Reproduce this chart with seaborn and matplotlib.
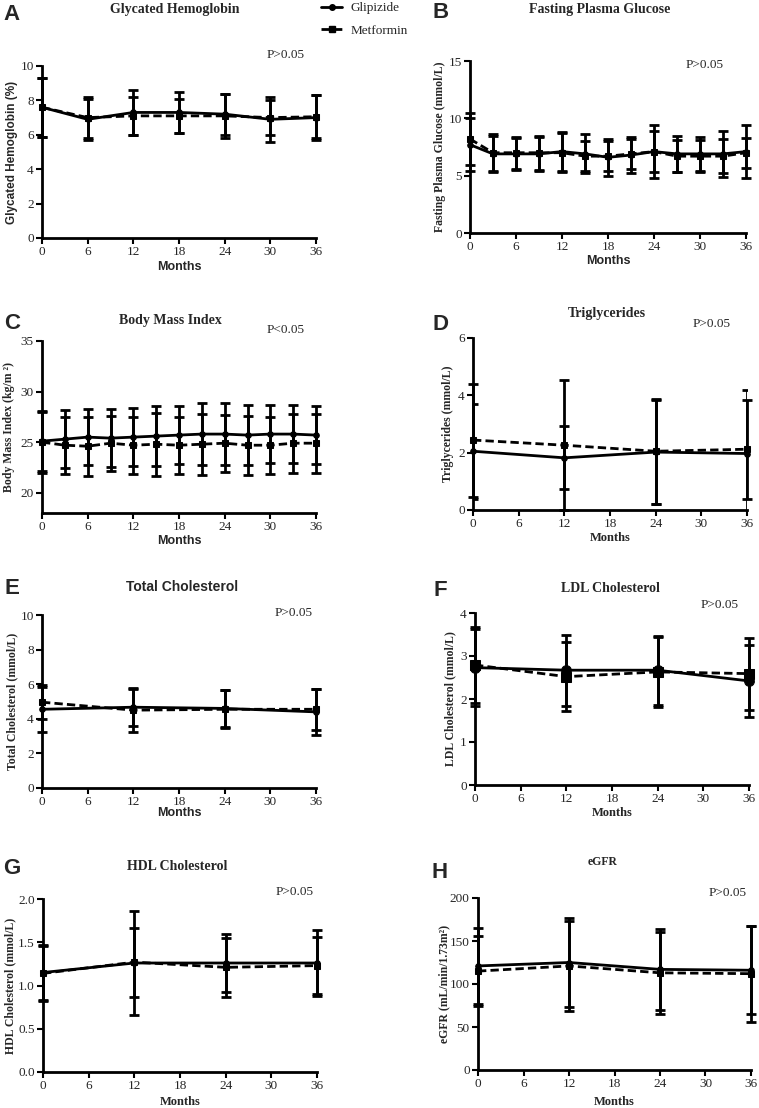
import numpy as np
import pandas as pd
import matplotlib
matplotlib.use("Agg")
import matplotlib.pyplot as plt
from matplotlib.lines import Line2D
import seaborn as sns

# ---------------- data ----------------
months_a = [0, 6, 12, 18, 24, 30, 36]
months_3 = [0, 3, 6, 9, 12, 15, 18, 21, 24, 27, 30, 33, 36]
months_y = [0, 12, 24, 36]

hba1c_glip = [7.6, 6.9, 7.3, 7.3, 7.2, 6.9, 7.0]
hba1c_glip_sd = [1.7, 1.2, 1.3, 1.2, 1.2, 1.3, 1.3]
hba1c_metf = [7.6, 7.0, 7.1, 7.1, 7.1, 7.0, 7.05]
hba1c_metf_sd = [1.7, 1.2, 1.1, 1.0, 1.3, 1.0, 1.25]

fpg_glip = [7.7, 6.9, 6.9, 6.9, 7.1, 6.9, 6.6, 6.8, 7.1, 6.9, 6.9, 6.9, 7.1]
fpg_glip_sd = [2.3, 1.6, 1.4, 1.5, 1.7, 1.7, 1.6, 1.6, 2.3, 1.6, 1.5, 2.0, 2.3]
fpg_metf = [8.2, 7.0, 7.0, 7.0, 7.0, 6.7, 6.7, 6.9, 7.1, 6.7, 6.7, 6.7, 7.0]
fpg_metf_sd = [2.3, 1.6, 1.4, 1.5, 1.7, 1.3, 1.3, 1.3, 1.8, 1.4, 1.4, 1.5, 1.3]

bmi_glip = [25.1, 25.3, 25.5, 25.4, 25.5, 25.6, 25.7, 25.8, 25.8, 25.7, 25.8, 25.8, 25.7]
bmi_glip_sd = [2.95, 2.9, 2.8, 2.9, 2.9, 3.0, 2.9, 3.1, 3.1, 3.0, 2.9, 2.9, 2.9]
bmi_metf = [25.0, 24.7, 24.6, 24.9, 24.7, 24.8, 24.7, 24.8, 24.9, 24.7, 24.7, 24.9, 24.9]
bmi_metf_sd = [3.0, 2.8, 2.9, 2.7, 2.8, 3.1, 2.8, 3.0, 2.8, 2.9, 2.8, 2.9, 2.9]

tg_glip = [2.05, 1.82, 2.02, 1.97]
tg_glip_sd = [1.65, 1.1, 1.8, 2.2]
tg_metf = [2.44, 2.26, 2.05, 2.12]
tg_metf_sd = [1.97, 2.26, 1.83, 1.72]

tc_glip = [4.55, 4.67, 4.6, 4.4]
tc_glip_sd = [1.3, 1.1, 1.05, 1.35]
tc_metf = [4.96, 4.5, 4.55, 4.55]
tc_metf_sd = [1.0, 1.25, 1.1, 1.2]

ldl_glip = [2.73, 2.67, 2.67, 2.42]
ldl_glip_sd = [0.9, 0.83, 0.8, 0.84]
ldl_metf = [2.79, 2.52, 2.63, 2.59]
ldl_metf_sd = [0.88, 0.8, 0.82, 0.84]

hdl_glip = [1.15, 1.26, 1.26, 1.26]
hdl_glip_sd = [0.32, 0.6, 0.33, 0.38]
hdl_metf = [1.14, 1.27, 1.21, 1.23]
hdl_metf_sd = [0.32, 0.4, 0.34, 0.33]

egfr_glip = [121, 125, 117, 116]
egfr_glip_sd = [44, 52, 47, 51]
egfr_metf = [115, 121, 113, 112]
egfr_metf_sd = [41, 52, 48, 56]

groups = ["Glipizide", "Metformin"]
month_ticks = [0, 6, 12, 18, 24, 30, 36]

# ---------------- style ----------------
sns.set_style("ticks")
SERIF = "Liberation Serif"
SANS = "Liberation Sans"
plt.rcParams["font.family"] = [SERIF, "DejaVu Serif"]

W, H = 759, 1108
fig = plt.figure(figsize=(W / 100, H / 100), dpi=100)


def rect(l, r, t, b):
    return [l / W, 1 - b / H, (r - l) / W, (b - t) / H]


panels = [
    dict(letter="A", pos=rect(42, 316, 66, 238), x=months_a,
         g=hba1c_glip, gs=hba1c_glip_sd, m=hba1c_metf, ms=hba1c_metf_sd,
         ylim=(0, 10), yticks=[0, 2, 4, 6, 8, 10], yfmt="{:g}",
         title="Glycated Hemoglobin", tfont=SERIF, tx=0.485, ty=1.33, tsize=10,
         ylabel="Glycated Hemoglobin (%)", yfont=SANS, ylx=-0.088,
         xfont=SANS, xly=-0.135, ptext="P>0.05", px=0.89, py=1.064,
         lx=12, ly=15, msz=4),
    dict(letter="B", pos=rect(470, 746, 61, 233), x=months_3,
         g=fpg_glip, gs=fpg_glip_sd, m=fpg_metf, ms=fpg_metf_sd,
         ylim=(0, 15), yticks=[0, 5, 10, 15], yfmt="{:g}",
         title="Fasting Plasma Glucose", tfont=SERIF, tx=0.471, ty=1.30, tsize=10,
         ylabel="Fasting Plasma Glucose (mmol/L)", yfont=SERIF, ylx=-0.087,
         xfont=SANS, xly=-0.13, ptext="P>0.05", px=0.851, py=0.977,
         lx=441, ly=13, msz=4),
    dict(letter="C", pos=rect(42, 316, 341, 513), x=months_3,
         g=bmi_glip, gs=bmi_glip_sd, m=bmi_metf, ms=bmi_metf_sd,
         ylim=(18, 35), yticks=[20, 25, 30, 35], yfmt="{:g}",
         title="Body Mass Index", tfont=SERIF, tx=0.47, ty=1.12, tsize=10,
         ylabel="Body Mass Index (kg/m ²)", yfont=SERIF, ylx=-0.097,
         xfont=SANS, xly=-0.13, ptext="P<0.05", px=0.89, py=1.064,
         lx=12, ly=324, msz=4),
    dict(letter="D", pos=rect(473, 747, 338, 510), x=months_y,
         g=tg_glip, gs=tg_glip_sd, m=tg_metf, ms=tg_metf_sd,
         ylim=(0, 6), yticks=[0, 2, 4, 6], yfmt="{:g}",
         title="Triglycerides", tfont=SERIF, tx=0.489, ty=1.145, tsize=10,
         ylabel="Triglycerides (mmol/L)", yfont=SERIF, ylx=-0.069,
         xfont=SERIF, xly=-0.13, ptext="P>0.05", px=0.872, py=1.081,
         lx=441, ly=325, msz=4),
    dict(letter="E", pos=rect(42, 316, 615, 788), x=months_y,
         g=tc_glip, gs=tc_glip_sd, m=tc_metf, ms=tc_metf_sd,
         ylim=(0, 10), yticks=[0, 2, 4, 6, 8, 10], yfmt="{:g}",
         title="Total Cholesterol", tfont=SANS, tx=0.51, ty=1.16, tsize=10,
         ylabel="Total Cholesterol (mmol/L)", yfont=SERIF, ylx=-0.088,
         xfont=SANS, xly=-0.11, ptext="P>0.05", px=0.92, py=1.01,
         lx=12, ly=589, msz=4),
    dict(letter="F", pos=rect(475, 749, 613, 785), x=months_y,
         g=ldl_glip, gs=ldl_glip_sd, m=ldl_metf, ms=ldl_metf_sd,
         ylim=(0, 4), yticks=[0, 1, 2, 3, 4], yfmt="{:g}",
         title="LDL Cholesterol", tfont=SERIF, tx=0.496, ty=1.145, tsize=10,
         ylabel="LDL Cholesterol (mmol/L)", yfont=SERIF, ylx=-0.069,
         xfont=SERIF, xly=-0.13, ptext="P>0.05", px=0.894, py=1.047,
         lx=440, ly=590, msz=7),
    dict(letter="G", pos=rect(43, 317, 899, 1072), x=months_y,
         g=hdl_glip, gs=hdl_glip_sd, m=hdl_metf, ms=hdl_metf_sd,
         ylim=(0, 2), yticks=[0, 0.5, 1.0, 1.5, 2.0], yfmt="{:.1f}",
         title="HDL Cholesterol", tfont=SERIF, tx=0.489, ty=1.185, tsize=10,
         ylabel="HDL Cholesterol (mmol/L)", yfont=SERIF, ylx=-0.099,
         xfont=SERIF, xly=-0.14, ptext="P>0.05", px=0.92, py=1.04,
         lx=12, ly=869, msz=4),
    dict(letter="H", pos=rect(478, 751, 898, 1070), x=months_y,
         g=egfr_glip, gs=egfr_glip_sd, m=egfr_metf, ms=egfr_metf_sd,
         ylim=(0, 200), yticks=[0, 50, 100, 150, 200], yfmt="{:g}",
         title="eGFR", tfont=SERIF, tx=0.458, ty=1.21, tsize=8.5,
         ylabel="eGFR (mL/min/1.73m²)", yfont=SERIF, ylx=-0.103,
         xfont=SERIF, xly=-0.15, ptext="P>0.05", px=0.916, py=1.03,
         lx=440, ly=872, msz=4),
]

for p in panels:
    ax = fig.add_axes(p["pos"])
    df = pd.DataFrame({
        "Months": list(p["x"]) * 2,
        "value": list(p["g"]) + list(p["m"]),
        "sd": list(p["gs"]) + list(p["ms"]),
        "group": [groups[0]] * len(p["x"]) + [groups[1]] * len(p["x"]),
    })
    for grp in groups:
        sub = df[df["group"] == grp]
        lows = sub["value"] - sub["sd"]
        clip = bool((lows < p["ylim"][0]).any())
        ax.errorbar(sub["Months"], sub["value"], yerr=sub["sd"], fmt="none",
                    ecolor="black", elinewidth=2, capsize=3.5, capthick=2,
                    clip_on=clip, zorder=3)
    sns.lineplot(data=df, x="Months", y="value", hue="group", style="group",
                 palette={"Glipizide": "black", "Metformin": "black"},
                 dashes={"Glipizide": "", "Metformin": (3, 1.5)},
                 markers={"Glipizide": "o", "Metformin": "s"},
                 markersize=p["msz"], markeredgecolor="black", linewidth=2,
                 legend=False, ax=ax, clip_on=False, zorder=4, sort=True)
    ax.set_xlim(0, 36)
    ax.set_ylim(*p["ylim"])
    ax.set_xticks(month_ticks)
    ax.set_xticklabels([str(t) for t in month_ticks])
    ax.set_yticks(p["yticks"])
    ax.set_yticklabels([p["yfmt"].format(t) for t in p["yticks"]])
    for lab in ax.get_xticklabels() + ax.get_yticklabels():
        lab.set_fontfamily(SERIF)
        lab.set_fontsize(9.5)
    ax.tick_params(direction="out", length=4, width=1.5, pad=2, color="black")
    for s in ["top", "right"]:
        ax.spines[s].set_visible(False)
    for s in ["left", "bottom"]:
        ax.spines[s].set_linewidth(2)
        ax.spines[s].set_color("black")
    ax.set_xlabel("Months", fontfamily=p["xfont"], fontweight="bold", fontsize=9)
    ax.xaxis.set_label_coords(0.5, p["xly"])
    ax.set_ylabel(p["ylabel"], fontfamily=p["yfont"], fontweight="bold", fontsize=8.5)
    ax.yaxis.set_label_coords(p["ylx"], 0.5)
    ax.text(p["tx"], p["ty"], p["title"], transform=ax.transAxes, ha="center",
            va="center", fontfamily=p["tfont"], fontweight="bold", fontsize=p["tsize"])
    ax.text(p["px"], p["py"], p["ptext"], transform=ax.transAxes, ha="center",
            va="center", fontfamily=SERIF, fontsize=9.5)
    fig.text(p["lx"] / W, 1 - p["ly"] / H, p["letter"], ha="center", va="center",
             fontfamily=SANS, fontweight="bold", fontsize=16)

handles = [
    Line2D([], [], color="black", lw=2, marker="o", markersize=4),
    Line2D([], [], color="black", lw=2, ls=(0, (3, 1.5)), marker="s", markersize=4),
]
fig.legend(handles, groups, loc="upper left", bbox_to_anchor=(312 / W, 1 + 7 / H),
           frameon=False, prop={"family": SERIF, "size": 9.5}, handlelength=1.6,
           labelspacing=0.75, handletextpad=0.6, borderaxespad=0.3)

fig.savefig("out.png", dpi=100)
